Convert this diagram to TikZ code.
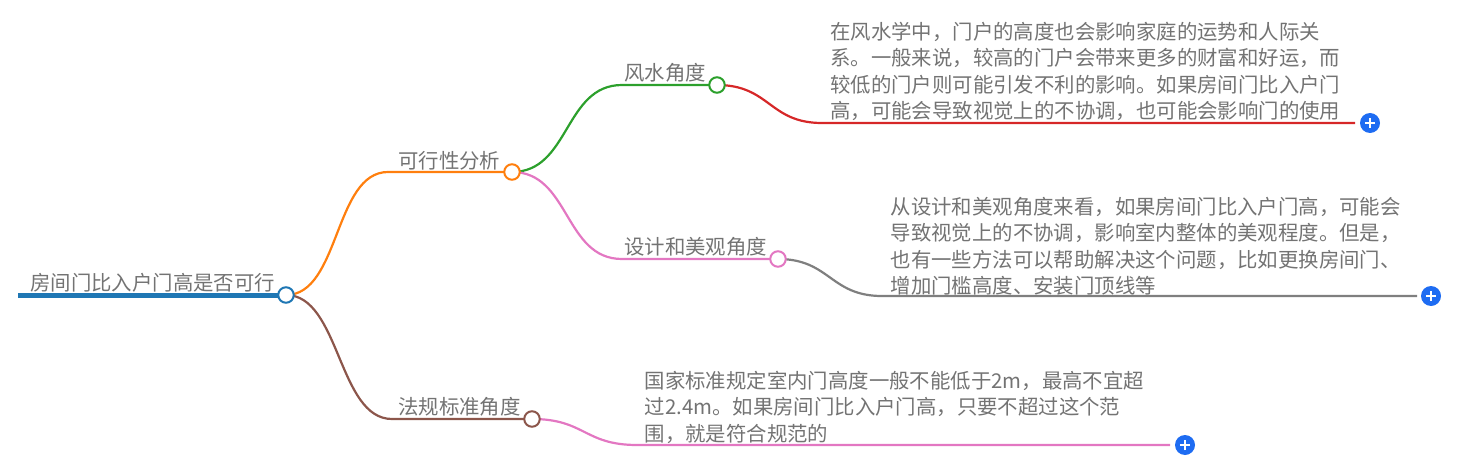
\documentclass[tikz,border=0pt]{standalone}
\usepackage{fontspec}
\setmainfont{Noto Sans CJK SC}
\usetikzlibrary{positioning}
\usetikzlibrary{backgrounds}
\definecolor{rootblue}{HTML}{1F77B4}
\definecolor{lineorange}{HTML}{FF7F0E}
\definecolor{linegreen}{HTML}{2CA02C}
\definecolor{linered}{HTML}{D62728}
\definecolor{linepink}{HTML}{E377C2}
\definecolor{linegray}{HTML}{7F7F7F}
\definecolor{linebrown}{HTML}{8C564B}
\definecolor{plusblue}{HTML}{1E6CF2}
\definecolor{textgray}{HTML}{737373}
\tikzset{dot/.style = {circle, draw = #1, fill = white, line width = 2, inner sep = 0, minimum size = 15.5}}
\tikzset{plus/.style = {circle, fill = plusblue, inner sep = 0, minimum size = 20}}
\tikzset{lbl/.style = {inner sep = 0, anchor = base west, text = textgray, font = \fontsize{20.4}{26.3}\selectfont}}
\tikzset{para/.style = {lbl, anchor = north west, align = left}}
\tikzset{conn/.style = {line width = 2.2, draw = #1}}

\begin{document}
\begin{tikzpicture}[x = 1pt, y = -1pt]
      \useasboundingbox (0, 0) rectangle (1458, 468);

      \coordinate (start) at (18, 295);
      \node [dot = rootblue] (root) at (286, 295) {};
      \node [dot = lineorange] (feas) at (512, 172) {};
      \node [dot = linegreen] (wind) at (717, 85) {};
      \node [dot = linepink] (design) at (778, 259) {};
      \node [dot = linebrown] (law) at (532, 419) {};

      \coordinate (feasb) at (388, 172);
      \coordinate (windb) at (622, 85);
      \coordinate (designb) at (622, 259);
      \coordinate (lawb) at (392, 419);
      \coordinate (windc) at (822, 123);
      \coordinate (designc) at (882, 296);
      \coordinate (lawc) at (637, 445);
      \coordinate (windend) at (1355, 123);
      \coordinate (designend) at (1417, 296);
      \coordinate (lawend) at (1170, 445);

      \node [plus] (windplus) at (1370, 123) {};
      \node [plus] (designplus) at (1431, 296) {};
      \node [plus] (lawplus) at (1185, 445) {};

      \node [lbl] (rootlbl) at (30, 290) {房间门比入户门高是否可行};
      \node [lbl] (feaslbl) at (398, 168) {可行性分析};
      \node [lbl] (windlbl) at (624, 81) {风水角度};
      \node [lbl] (designlbl) at (624, 254) {设计和美观角度};
      \node [lbl] (lawlbl) at (398, 414) {法规标准角度};
      \node [para] (windtext) at (830, 22) {在风水学中，门户的高度也会影响家庭的运势和人际关\\系。一般来说，较高的门户会带来更多的财富和好运，而\\较低的门户则可能引发不利的影响。如果房间门比入户门\\高，可能会导致视觉上的不协调，也可能会影响门的使用};
      \node [para] (designtext) at (890.5, 197) {从设计和美观角度来看，如果房间门比入户门高，可能会\\导致视觉上的不协调，影响室内整体的美观程度。但是，\\也有一些方法可以帮助解决这个问题，比如更换房间门、\\增加门槛高度、安装门顶线等};
      \node [para] (lawtext) at (644.5, 371) {国家标准规定室内门高度一般不能低于2m，最高不宜超\\过2.4m。如果房间门比入户门高，只要不超过这个范\\围，就是符合规范的};

      \begin{scope}[on background layer]
        \draw [conn = rootblue, line width = 5] (start) -- (root.center);
        \draw [conn = lineorange] (root.center) .. controls (340, 295) and (334, 172) .. (feasb) -- (feas.center);
        \draw [conn = linebrown] (root.center) .. controls (340, 295) and (338, 419) .. (lawb) -- (law.center);
        \draw [conn = linegreen] (feas.center) .. controls (570, 172) and (564, 85) .. (windb) -- (wind.center);
        \draw [conn = linepink] (feas.center) .. controls (570, 172) and (564, 259) .. (designb) -- (design.center);
        \draw [conn = linered] (wind.center) .. controls (770, 85) and (769, 123) .. (windc) -- (windend);
        \draw [conn = linegray] (design.center) .. controls (830, 259) and (830, 296) .. (designc) -- (designend);
        \draw [conn = linepink] (law.center) .. controls (585, 419) and (584, 445) .. (lawc) -- (lawend);
      \end{scope}

      % plus signs
      \draw [white, line width = 2] ([xshift = -5]windplus.center) -- ([xshift = 5]windplus.center);
      \draw [white, line width = 2] ([yshift = -5]windplus.center) -- ([yshift = 5]windplus.center);
      \draw [white, line width = 2] ([xshift = -5]designplus.center) -- ([xshift = 5]designplus.center);
      \draw [white, line width = 2] ([yshift = -5]designplus.center) -- ([yshift = 5]designplus.center);
      \draw [white, line width = 2] ([xshift = -5]lawplus.center) -- ([xshift = 5]lawplus.center);
      \draw [white, line width = 2] ([yshift = -5]lawplus.center) -- ([yshift = 5]lawplus.center);
    \end{tikzpicture}
\end{document}
